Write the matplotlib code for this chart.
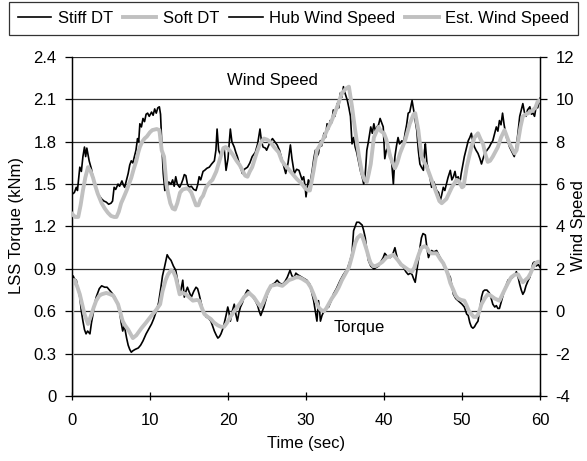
import matplotlib
matplotlib.use("Agg")
import matplotlib.pyplot as plt
from matplotlib.ticker import FuncFormatter

plt.rcParams["font.family"] = ["Liberation Sans", "DejaVu Sans"]
plt.rcParams["font.size"] = 12
plt.rcParams["axes.unicode_minus"] = False

# Hub wind speed (black, right axis)
hub_t = [0.0, 0.1, 0.3, 0.55, 0.7, 1.0, 1.2, 1.4, 1.6, 1.75, 1.9, 2.2, 2.5, 2.7, 3.0, 3.3, 3.6, 3.8,
         4.1, 4.4, 4.7, 5.0, 5.2, 5.4, 5.6, 5.9, 6.1, 6.4, 6.6, 6.75, 7.0, 7.2, 7.4, 7.6, 7.8, 8.0,
         8.2, 8.4, 8.55, 8.7, 8.9, 9.1, 9.3, 9.5, 9.7, 9.9, 10.2, 10.4, 10.6, 10.8, 11.0, 11.2,
         11.35, 11.5, 11.7, 11.9, 12.1, 12.4, 12.7, 12.9, 13.1, 13.3, 13.5, 13.8, 14.0, 14.2, 14.4,
         14.6, 14.8, 15.0, 15.3, 15.6, 15.9, 16.1, 16.3, 16.5, 16.8, 17.0, 17.3, 17.6, 17.9, 18.25,
         18.45, 18.6, 18.8, 19.0, 19.3, 19.5, 19.75, 20.0, 20.3, 20.5, 20.8, 21.0, 21.2, 21.5,
         21.85, 22.1, 22.5, 22.8, 23.1, 23.5, 23.8, 24.1, 24.3, 24.5, 24.8, 24.95, 25.3, 25.7,
         26.0, 26.3, 26.6, 26.97, 27.2, 27.4, 27.7, 28.0, 28.2, 28.5, 28.8, 29.1, 29.5, 29.7, 29.9,
         30.0, 30.3, 30.5, 30.8, 31.0, 31.2, 31.4, 31.6, 31.85, 32.0, 32.3, 32.5, 32.7, 32.9, 33.1,
         33.3, 33.5, 33.7, 34.0, 34.2, 34.4, 34.6, 34.8, 35.0, 35.3, 35.5, 35.7, 35.9, 36.1, 36.3,
         36.5, 36.8, 37.0, 37.2, 37.4, 37.6, 37.8, 38.0, 38.3, 38.5, 38.7, 38.9, 39.1, 39.3, 39.5,
         39.7, 39.9, 40.1, 40.3, 40.56, 40.8, 41.0, 41.2, 41.4, 41.6, 41.8, 42.0, 42.3, 42.5, 42.7,
         42.9, 43.1, 43.3, 43.6, 43.8, 44.0, 44.2, 44.4, 44.6, 44.8, 45.05, 45.2, 45.3, 45.5, 45.7,
         45.9, 46.1, 46.4, 46.75, 47.0, 47.2, 47.4, 47.6, 47.8, 48.0, 48.2, 48.5, 48.7, 48.9, 49.1,
         49.3, 49.5, 49.7, 49.9, 50.1, 50.3, 50.5, 50.8, 51.0, 51.2, 51.4, 51.6, 51.8, 52.05, 52.3,
         52.5, 52.7, 52.9, 53.2, 53.5, 53.7, 53.95, 54.2, 54.4, 54.6, 54.8, 55.0, 55.2, 55.4, 55.7,
         55.9, 56.1, 56.3, 56.5, 56.7, 56.97, 57.2, 57.4, 57.6, 57.8, 58.0, 58.2, 58.4, 58.7, 58.9,
         59.1, 59.3, 59.5, 59.7, 60.0]
hub_ws = [5.5, 5.55, 5.6, 5.85, 5.7, 6.8, 6.6, 7.3, 7.75, 7.3, 7.7, 7.1, 6.7, 6.3, 5.9, 5.55, 5.4, 5.3,
          5.2, 5.15, 5.05, 5.1, 5.2, 5.85, 5.75, 6.0, 5.9, 6.15, 5.95, 5.85, 6.2, 6.5, 6.9, 7.1, 7.0, 7.3,
          7.6, 8.15, 8.0, 8.85, 8.7, 9.1, 8.95, 9.3, 9.35, 9.2, 9.4, 9.25, 9.55, 9.35, 9.6, 9.65,
          9.3, 8.0, 6.5, 5.7, 5.75, 6.1, 6.0, 6.2, 5.9, 6.35, 6.0, 5.85, 6.0, 6.2, 6.45,
          6.4, 6.0, 5.85, 5.9, 5.75, 5.7, 5.95, 6.35, 6.2, 6.6, 6.65, 6.75, 6.8, 6.95, 7.1,
          7.6, 8.6, 7.6, 7.4, 7.6, 7.75, 6.65, 7.2, 8.6, 8.0, 7.75, 7.5, 7.3, 6.9,
          6.5, 6.7, 6.8, 7.0, 7.3, 7.5, 7.9, 8.6, 8.0, 7.75, 7.7, 7.6, 7.9, 8.15,
          8.0, 7.85, 7.6, 7.1, 6.8, 6.5, 7.0, 7.85, 7.2, 6.5, 6.7, 6.65, 6.2, 6.35, 5.85,
          5.4, 6.2, 6.0, 6.65, 7.2, 7.6, 7.3, 7.45, 8.05, 7.8, 8.4, 8.2, 8.85, 8.6, 9.0,
          8.9, 9.5, 9.2, 9.8, 9.6, 10.3, 10.1, 10.6, 10.3, 9.95, 9.6, 9.2, 7.9, 8.2, 7.75,
          7.5, 6.95, 6.6, 6.35, 6.0, 6.5, 7.6, 8.0, 8.7, 8.4, 8.85, 8.5, 8.7, 8.8, 9.1,
          8.9, 8.7, 7.2, 7.6, 7.75, 7.4, 6.95, 6.0, 7.3, 7.8, 8.2, 7.9, 8.05, 7.9, 8.4,
          8.8, 9.35, 9.4, 9.95, 9.5, 9.0, 8.55, 7.6, 6.95, 6.8, 6.65, 7.6, 7.9, 7.0, 6.65,
          6.3, 5.85, 6.1, 5.7, 5.6, 5.2, 5.5, 5.85, 5.7, 6.0, 6.3, 6.65, 6.2, 6.35, 6.6,
          6.2, 6.35, 6.0, 6.5, 6.9, 7.3, 7.6, 8.05, 8.2, 8.4, 8.0, 7.75, 7.6, 7.45, 7.2,
          6.95, 7.2, 7.45, 7.6, 7.75, 7.9, 8.05, 8.4, 8.7, 8.5, 9.0, 8.8, 9.35, 8.8, 8.2,
          8.0, 7.75, 7.6, 7.45, 7.3, 7.75, 8.5, 9.2, 9.5, 9.8, 9.4, 9.2, 9.5, 9.65, 9.3,
          9.35, 9.2, 9.65, 9.6, 10.05]

# Estimated wind speed (grey, right axis)
est_t = [0.0, 0.4, 0.8, 1.1, 1.4, 1.7, 2.05, 2.4, 2.7, 3.0, 3.3, 3.8, 4.2, 4.6, 5.0, 5.4, 5.7, 6.0,
         6.3, 6.6, 7.0, 7.3, 7.6, 7.9, 8.25, 8.5, 8.7, 9.0, 9.3, 9.6, 10.0, 10.3, 10.86, 11.2, 11.5,
         11.8, 12.1, 12.3, 12.6, 12.9, 13.2, 13.5, 13.85, 14.2, 14.7, 15.0, 15.3, 15.6, 15.9, 16.2,
         16.5, 16.8, 17.2, 17.7, 18.0, 18.5, 18.9, 19.4, 19.7, 20.2, 20.6, 21.1, 21.5, 21.85, 22.2,
         22.5, 22.8, 23.1, 23.7, 24.1, 24.6, 25.0, 25.4, 25.9, 26.5, 26.9, 27.3, 27.9, 28.8, 29.5,
         29.9, 30.3, 30.5, 30.98, 31.4, 32.05, 32.7, 33.3, 34.0, 34.6, 35.1, 35.5, 35.9, 36.3, 36.8,
         37.2, 37.5, 37.8, 38.05, 38.3, 38.7, 39.3, 39.6, 40.0, 40.3, 40.8, 41.4, 41.7, 42.05, 42.7,
         43.3, 43.8, 44.0, 44.4, 44.8, 45.5, 46.1, 46.75, 47.1, 47.4, 48.0, 48.7, 49.3, 49.6, 50.0,
         50.2, 50.6, 51.2, 51.6, 52.05, 52.4, 52.7, 53.0, 53.3, 53.6, 53.95, 54.6, 55.0, 55.45, 55.8,
         56.1, 56.75, 57.0, 57.2, 57.5, 57.8, 58.2, 58.5, 59.1, 59.4, 59.7, 60.0]
est_ws = [4.6, 4.45, 4.45, 5.0, 5.7, 6.3, 6.8, 6.6, 6.3, 5.9, 5.55, 5.1, 4.85, 4.65, 4.5, 4.45, 4.45, 4.7,
          5.1, 5.35, 5.7, 6.0, 6.3, 6.7, 7.1, 7.5, 7.75, 8.0, 8.15, 8.25, 8.45, 8.55, 8.6, 8.55, 7.6,
          7.3, 6.0, 5.6, 5.1, 4.85, 4.8, 5.1, 5.6, 5.75, 5.8, 5.75, 5.6, 5.3, 5.0, 5.0,
          5.3, 5.45, 5.85, 6.1, 6.2, 6.6, 7.1, 7.7, 7.75, 7.6, 7.4, 7.1, 6.9, 6.65, 6.4,
          6.35, 6.6, 6.8, 7.5, 7.9, 8.15, 8.1, 8.0, 7.75, 7.5, 7.1, 6.9, 6.65, 6.25, 6.0,
          5.8, 5.7, 5.7, 6.65, 7.6, 8.0, 8.55, 9.0, 9.65, 10.3, 10.5, 10.6, 9.65, 8.55, 7.3,
          6.5, 6.2, 6.1, 6.5, 6.95, 8.2, 8.7, 8.5, 8.4, 8.1, 7.3, 6.75, 7.0, 7.45, 8.05,
          8.85, 9.3, 9.35, 8.55, 7.3, 6.8, 6.2, 5.55, 5.2, 5.1, 5.3, 5.85, 6.2, 6.15, 5.85,
          5.9, 6.8, 7.75, 8.2, 8.4, 8.1, 7.9, 7.4, 7.05, 7.1, 7.3, 7.75, 8.2, 8.55, 8.2,
          7.9, 7.45, 7.6, 8.05, 8.7, 9.2, 9.3, 9.35, 9.5, 9.6, 9.9, 9.95]

# Stiff drivetrain torque (black, left axis)
stiff_t = [0.0, 0.15, 0.3, 0.55, 0.8, 1.0, 1.2, 1.4, 1.6, 1.8, 2.0, 2.3, 2.5, 2.7, 2.9, 3.1, 3.3, 3.5,
           3.8, 4.2, 4.5, 4.8, 5.1, 5.5, 5.8, 6.1, 6.3, 6.5, 6.7, 7.0, 7.2, 7.4, 7.6, 7.8, 8.1, 8.5,
           8.8, 9.1, 9.5, 9.8, 10.2, 10.5, 10.8, 11.1, 11.4, 11.6, 11.85, 12.0, 12.2, 12.4, 12.7,
           13.0, 13.3, 13.6, 13.8, 14.0, 14.2, 14.4, 14.6, 14.8, 15.0, 15.3, 15.6, 15.9, 16.1, 16.3,
           16.6, 16.8, 17.0, 17.2, 17.5, 17.8, 18.0, 18.25, 18.5, 18.7, 18.9, 19.1, 19.3, 19.5,
           19.75, 19.97, 20.1, 20.3, 20.55, 20.8, 21.0, 21.2, 21.4, 21.6, 21.85, 22.05, 22.3, 22.5,
           22.7, 22.9, 23.2, 23.5, 23.8, 24.0, 24.2, 24.4, 24.6, 24.8, 25.05, 25.3, 25.7, 26.0,
           26.3, 26.6, 26.97, 27.3, 27.6, 27.95, 28.2, 28.5, 28.7, 28.9, 29.2, 29.5, 29.8, 30.1,
           30.5, 30.8, 30.98, 31.2, 31.4, 31.5, 31.6, 31.75, 31.85, 32.05, 32.3, 32.6, 32.9, 33.2,
           33.5, 33.9, 34.4, 34.8, 35.3, 35.6, 35.9, 36.1, 36.3, 36.5, 36.8, 37.2, 37.4, 37.6, 37.8,
           38.0, 38.3, 38.7, 39.0, 39.3, 39.6, 39.9, 40.1, 40.4, 40.8, 41.1, 41.4, 41.6, 41.8, 42.1,
           42.5, 42.8, 43.1, 43.4, 43.6, 43.8, 44.0, 44.2, 44.4, 44.6, 44.8, 45.0, 45.3, 45.5, 45.7,
           45.9, 46.1, 46.4, 46.75, 47.1, 47.4, 47.7, 48.0, 48.3, 48.5, 48.7, 48.9, 49.2, 49.5, 49.8,
           50.0, 50.3, 50.6, 50.8, 51.0, 51.2, 51.4, 51.6, 51.8, 52.05, 52.3, 52.5, 52.7, 52.9, 53.2,
           53.5, 53.7, 53.95, 54.2, 54.4, 54.6, 54.8, 55.0, 55.2, 55.5, 55.9, 56.2, 56.5, 56.8,
           56.97, 57.2, 57.4, 57.6, 57.8, 58.0, 58.2, 58.5, 58.7, 58.9, 59.1, 59.3, 59.5, 59.8, 60.0]
stiff_tq = [0.84, 0.85, 0.83, 0.82, 0.75, 0.70, 0.60, 0.53, 0.47, 0.44, 0.46, 0.44, 0.52, 0.58, 0.65,
            0.70, 0.73, 0.76, 0.78, 0.77, 0.77, 0.75, 0.73, 0.70, 0.66, 0.60, 0.52, 0.46, 0.50, 0.41,
            0.36, 0.33, 0.31, 0.32, 0.33, 0.34, 0.36, 0.39, 0.44, 0.47, 0.51, 0.55, 0.60, 0.66, 0.77,
            0.85, 0.91, 0.95, 1.0, 0.98, 0.96, 0.92, 0.89, 0.80, 0.72, 0.76, 0.82, 0.70, 0.74, 0.77,
            0.74, 0.70, 0.74, 0.77, 0.76, 0.72, 0.65, 0.60, 0.58, 0.56, 0.55, 0.53, 0.50, 0.46, 0.43,
            0.41, 0.42, 0.44, 0.47, 0.51, 0.57, 0.63, 0.60, 0.53, 0.60, 0.65, 0.58, 0.53, 0.59, 0.63,
            0.66, 0.70, 0.73, 0.75, 0.74, 0.72, 0.70, 0.675, 0.64, 0.60, 0.57, 0.60, 0.63, 0.67, 0.72,
            0.75, 0.79, 0.80, 0.82, 0.80, 0.79, 0.81, 0.84, 0.89, 0.85, 0.84, 0.87, 0.86, 0.85, 0.84,
            0.83, 0.82, 0.79, 0.72, 0.675, 0.60, 0.53, 0.60, 0.675, 0.60, 0.53, 0.57, 0.60, 0.62,
            0.63, 0.67, 0.72, 0.76, 0.82, 0.86, 0.90, 0.95, 1.01, 1.17, 1.20, 1.23, 1.23, 1.21, 1.17,
            1.12, 1.03, 0.96, 0.92, 0.90, 0.91, 0.92, 0.95, 0.98, 1.01, 0.99, 0.98, 1.0, 1.05, 1.0,
            0.96, 0.93, 0.91, 0.88, 0.86, 0.87, 0.86, 0.83, 0.805, 0.88, 0.96, 1.05, 1.12, 1.15, 1.14,
            1.05, 0.98, 1.01, 1.03, 1.02, 1.03, 0.99, 0.96, 0.92, 0.89, 0.86, 0.84, 0.78, 0.72, 0.69,
            0.675, 0.66, 0.65, 0.63, 0.58, 0.57, 0.52, 0.49, 0.48, 0.49, 0.51, 0.53, 0.62, 0.70, 0.74,
            0.75, 0.75, 0.73, 0.70, 0.65, 0.63, 0.64, 0.62, 0.62, 0.66, 0.70, 0.76, 0.82, 0.83, 0.84,
            0.86, 0.88, 0.84, 0.79, 0.75, 0.72, 0.74, 0.78, 0.82, 0.84, 0.89, 0.94, 0.95, 0.92, 0.93,
            0.91]

# Soft drivetrain torque (grey, left axis)
soft_t = [0.0, 0.05, 0.35, 0.7, 1.0, 1.3, 1.6, 2.05, 2.5, 2.8, 3.1, 3.5, 3.8, 4.4, 4.9, 5.3, 5.6, 5.9,
          6.2, 6.5, 6.8, 7.2, 7.5, 7.8, 8.25, 8.9, 9.5, 10.2, 10.8, 11.3, 11.6, 12.0, 12.3, 12.7,
          13.0, 13.3, 13.6, 13.8, 14.2, 14.6, 15.0, 15.5, 16.0, 16.3, 16.6, 16.97, 17.4, 17.8, 18.2,
          18.7, 19.1, 19.5, 19.9, 20.3, 20.8, 21.2, 21.6, 22.05, 22.7, 23.3, 23.8, 24.2, 24.5, 24.8,
          25.1, 25.5, 26.3, 26.97, 27.4, 27.8, 28.3, 28.7, 29.1, 29.5, 30.2, 30.6, 30.98, 31.3, 31.6,
          31.9, 32.3, 32.6, 32.9, 33.3, 33.8, 34.2, 34.6, 35.0, 35.5, 35.9, 36.3, 36.6, 37.0, 37.2,
          37.4, 37.8, 38.1, 38.3, 38.6, 38.9, 39.3, 39.8, 40.3, 40.8, 41.2, 41.5, 41.8, 42.2, 42.7,
          43.2, 43.6, 43.9, 44.2, 44.5, 44.8, 45.2, 45.5, 45.8, 46.1, 46.75, 47.2, 47.6, 48.0, 48.2,
          48.5, 48.9, 49.2, 49.5, 49.9, 50.3, 50.6, 50.9, 51.2, 51.5, 51.8, 52.1, 52.5, 52.9, 53.3,
          53.7, 54.2, 54.8, 55.1, 55.45, 55.9, 56.3, 56.8, 57.2, 57.5, 57.8, 58.1, 58.5, 58.8, 59.1,
          59.4, 59.7, 60.0]
soft_tq = [0.0, 0.82, 0.82, 0.77, 0.72, 0.65, 0.58, 0.51, 0.58, 0.63, 0.675, 0.71, 0.72, 0.73, 0.72,
           0.71, 0.68, 0.65, 0.59, 0.53, 0.50, 0.47, 0.44, 0.41, 0.43, 0.48, 0.52, 0.57, 0.61, 0.65,
           0.74, 0.82, 0.86, 0.89, 0.88, 0.84, 0.77, 0.72, 0.73, 0.72, 0.70, 0.675, 0.68, 0.675, 0.63,
           0.58, 0.56, 0.545, 0.52, 0.50, 0.49, 0.49, 0.52, 0.56, 0.60, 0.63, 0.66, 0.70, 0.73, 0.70,
           0.66, 0.63, 0.66, 0.70, 0.74, 0.78, 0.79, 0.78, 0.80, 0.82, 0.83, 0.84, 0.84, 0.83, 0.805,
           0.77, 0.72, 0.67, 0.63, 0.61, 0.60, 0.62, 0.65, 0.69, 0.73, 0.77, 0.82, 0.86, 0.91, 0.99,
           1.08, 1.12, 1.14, 1.13, 1.10, 1.03, 0.97, 0.94, 0.92, 0.92, 0.93, 0.95, 0.98, 0.99, 1.0,
           0.98, 0.96, 0.93, 0.91, 0.89, 0.88, 0.91, 0.96, 1.01, 1.05, 1.06, 1.05, 1.02, 1.01, 1.01,
           0.97, 0.94, 0.89, 0.86, 0.80, 0.75, 0.71, 0.69, 0.68, 0.675, 0.64, 0.60, 0.58, 0.56, 0.56,
           0.58, 0.65, 0.69, 0.72, 0.71, 0.69, 0.675, 0.71, 0.75, 0.80, 0.84, 0.86, 0.86, 0.83, 0.805,
           0.82, 0.84, 0.87, 0.91, 0.94, 0.95, 0.95]

torque_ticks = [0, 0.3, 0.6, 0.9, 1.2, 1.5, 1.8, 2.1, 2.4]
wind_ticks = [-4, -2, 0, 2, 4, 6, 8, 10, 12]
time_ticks = [0, 10, 20, 30, 40, 50, 60]

GREY = "#c0c0c0"
W, H = 587, 461

fig = plt.figure(figsize=(W / 100, H / 100), dpi=100)
ax = fig.add_axes([72 / W, 1 - 396 / H, 468 / W, 339 / H])
ax2 = ax.twinx()

l1, = ax.plot(stiff_t, stiff_tq, color="black", lw=1.2, label="Stiff DT", zorder=3)
l2, = ax.plot(soft_t, soft_tq, color=GREY, lw=2.8, label="Soft DT", zorder=4)
l3, = ax2.plot(hub_t, hub_ws, color="black", lw=1.2, label="Hub Wind Speed", zorder=3)
l4, = ax2.plot(est_t, est_ws, color=GREY, lw=2.8, label="Est. Wind Speed", zorder=4)

ax.set_xlim(0, 60)
ax.set_ylim(0, 2.4)
ax2.set_ylim(-4, 12)
ax.set_xticks(time_ticks)
ax.set_yticks(torque_ticks)
ax2.set_yticks(wind_ticks)
ax.yaxis.set_major_formatter(FuncFormatter(lambda v, p: "0" if v == 0 else f"{v:.1f}"))

ax.grid(axis="y", color="#303030", lw=0.9)
ax.set_axisbelow(True)
for s in ax.spines.values():
    s.set_color("black")
    s.set_linewidth(0.9)
ax.spines["top"].set_visible(False)
for s in ax2.spines.values():
    s.set_color("black")
    s.set_linewidth(0.9)
ax2.spines["top"].set_visible(False)

ax.tick_params(axis="y", direction="out", length=5, width=0.9, pad=6, labelsize=12)
ax.tick_params(axis="x", direction="inout", length=6, width=0.9, pad=9, labelsize=12)
ax2.tick_params(axis="y", direction="out", length=5, width=0.9, pad=6, labelsize=12)

ax.set_xlabel("Time (sec)", fontsize=12, labelpad=6)
fig.text(17 / W, 1 - 226 / H, "LSS Torque (kNm)", rotation=90, ha="center", va="center", fontsize=12)
fig.text(578 / W, 1 - 226 / H, "Wind Speed", rotation=90, ha="center", va="center", fontsize=12)

ax.text(25.7, 2.237, "Wind Speed", ha="center", va="center", fontsize=12)
ax.text(36.8, 0.483, "Torque", ha="center", va="center", fontsize=12)

leg = fig.legend(handles=[l1, l2, l3, l4], loc="upper center", ncol=4,
                 bbox_to_anchor=(0.5, 1 - 2 / H), frameon=True, fancybox=False,
                 handlelength=2.0, handletextpad=0.4, columnspacing=0.6,
                 borderpad=0.55, fontsize=12, borderaxespad=0)
leg.get_frame().set_edgecolor("black")
leg.get_frame().set_linewidth(0.9)

fig.savefig("out.png", dpi=100)
